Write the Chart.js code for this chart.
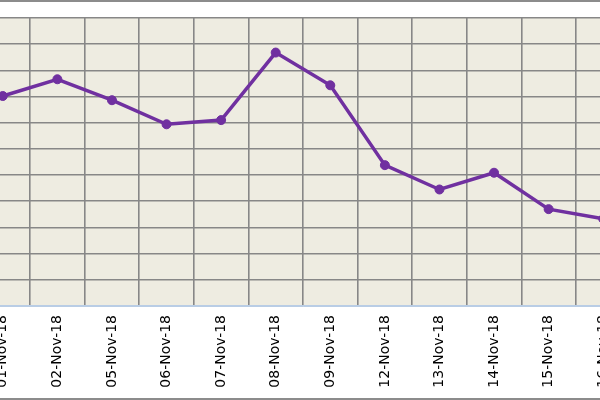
<!DOCTYPE html>
<html>
<head>
<meta charset="utf-8">
<title>Nov-18</title>
<script src="https://cdn.jsdelivr.net/npm/chart.js@4/dist/chart.umd.min.js"></script>
<style>
    html, body { margin: 0; padding: 0; background: #ffffff; overflow: hidden; }
    #frame { position: absolute; left: 0; top: 0; width: 600px; height: 400px; box-sizing: border-box;
             border-top: 2px solid #8c8c8c; border-bottom: 2px solid #8c8c8c; }
    #chartBox { position: absolute; left: -30.5px; top: 0; width: 666px; height: 400px; }
</style>
</head>
<body>
<div id="frame"></div>
<div id="chartBox"><canvas id="chartDaily"></canvas></div>
<script>
'use strict';

//colors

var colorPlot = "rgb(238,236,225)";
var colorGrid = "rgb(135,135,135)";
var colorAxis = "rgb(185,205,229)";
var colorLine = "rgb(112,048,160)";
var colorText = "rgb(000,000,000)";

//data

var dates = ['01-Nov-18', '02-Nov-18', '05-Nov-18', '06-Nov-18', '07-Nov-18', '08-Nov-18',
             '09-Nov-18', '12-Nov-18', '13-Nov-18', '14-Nov-18', '15-Nov-18', '16-Nov-18'];
var values = [8.02, 8.66, 7.86, 6.94, 7.10, 9.68, 8.43, 5.38, 4.45, 5.09, 3.70, 3.33];

var yMin = 0;
var yMax = 11;

//plot background

const plotBackground = {
    id: 'plotBackground',
    beforeDraw: function (chart) {
        var area = chart.chartArea;
        var ctx = chart.ctx;
        ctx.save();
        ctx.fillStyle = colorPlot;
        ctx.fillRect(area.left, area.top, area.right - area.left, area.bottom - area.top);
        ctx.restore();
    }
};

const chartDailyConfig = {
    type: 'line',
    data: {
        labels: dates,
        datasets: [{
            label: 'Value',
            data: values,
            borderColor: colorLine,
            backgroundColor: colorLine,
            borderWidth: 3.5,
            pointRadius: 4.5,
            pointBorderWidth: 1,
            tension: 0,
            fill: false
        }]
    },
    options: {
        responsive: true,
        maintainAspectRatio: false,
        animation: false,
        layout: { padding: { top: 18, left: 0, right: 0, bottom: 0 } },
        plugins: {
            legend: { display: false },
            tooltip: { enabled: false }
        },
        scales: {
            x: {
                offset: true,
                grid: { offset: true, color: colorGrid, lineWidth: 1.6, drawTicks: false },
                border: { display: true, color: colorAxis, width: 1 },
                ticks: {
                    color: colorText,
                    font: { family: 'DejaVu Sans', size: 14 },
                    minRotation: 90,
                    maxRotation: 90,
                    padding: 9,
                    autoSkip: false
                },
                afterFit: function (scale) { scale.height = 94; }
            },
            y: {
                min: yMin,
                max: yMax,
                grid: {
                    color: function (c) { return c.tick && c.tick.value === yMin ? colorAxis : colorGrid; },
                    lineWidth: 1.6,
                    drawTicks: false
                },
                border: { display: false },
                ticks: { display: false, stepSize: 1 },
                afterFit: function (scale) { scale.width = 0; }
            }
        }
    },
    plugins: [plotBackground]
};

//draw chart

var chartDaily = new Chart(document.getElementById('chartDaily'), chartDailyConfig);
</script>
</body>
</html>
